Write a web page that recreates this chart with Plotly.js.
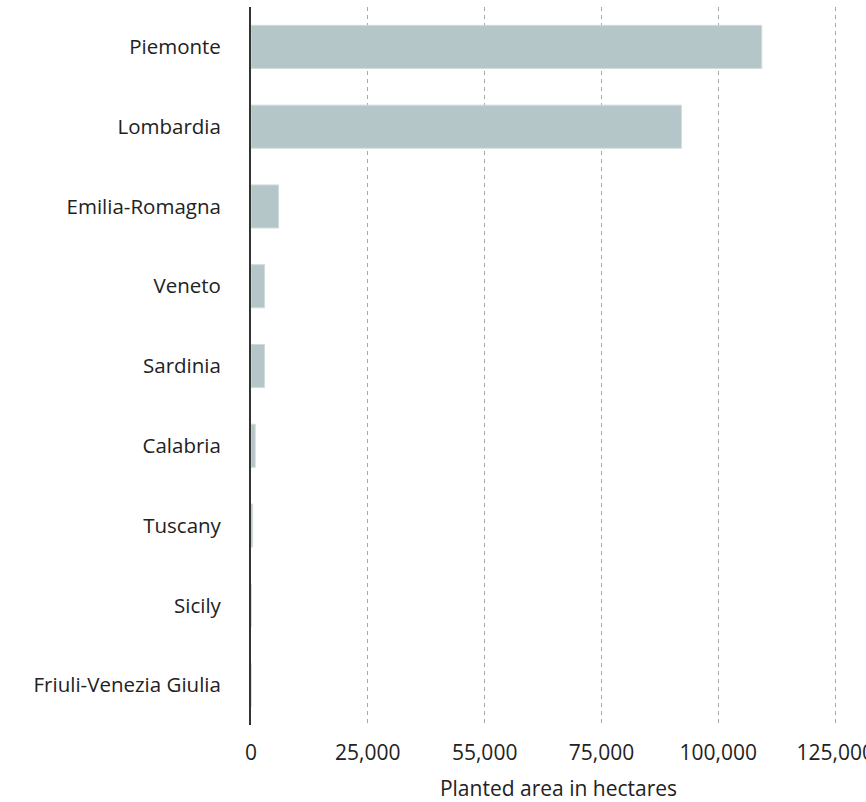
<!DOCTYPE html>
<html>
<head>
<meta charset="utf-8">
<script src="https://cdn.plot.ly/plotly-3.0.1.min.js"></script>
<style>html,body{margin:0;padding:0;background:#fff;}#chart{width:866px;height:802px;}</style>
</head>
<body>
<div id="chart"></div>
<script>
const regions = ["Piemonte","Lombardia","Emilia-Romagna","Veneto","Sardinia","Calabria","Tuscany","Sicily","Friuli-Venezia Giulia"];
const hectares = [109300, 92100, 5900, 2900, 2900, 900, 350, 40, 20];
const tickValues = [0, 25000, 50000, 75000, 100000, 125000];
const tickLabels = ["0", "25,000", "55,000", "75,000", "100,000", "125,000"];

const font = "'Open Sans', sans-serif";
Plotly.newPlot('chart', [{
  type: 'bar',
  orientation: 'h',
  x: hectares,
  y: regions,
  marker: {color: '#b4c6c7', line: {color: '#cfdcdc', width: 1}},
  hoverinfo: 'x+y'
}], {
  width: 866, height: 802,
  margin: {l: 251, r: 0, t: 7, b: 77},
  paper_bgcolor: '#fff', plot_bgcolor: '#fff',
  bargap: 0.46,
  showlegend: false,
  font: {family: font, size: 20, color: '#222'},
  xaxis: {
    range: [0, 131600],
    tickvals: tickValues,
    ticktext: tickLabels,
    showgrid: true, gridcolor: '#a8a8a8', griddash: '4px,4px', gridwidth: 1,
    zeroline: false, showline: false,
    ticks: '', ticklabelstandoff: 13, ticklabeloverflow: 'allow',
    tickfont: {size: 21, color: '#222'},
    title: {text: 'Planted area in hectares', font: {size: 21, color: '#222'}, standoff: 16}
  },
  yaxis: {
    type: 'category',
    autorange: 'reversed',
    showline: true, linecolor: '#333', linewidth: 2,
    showgrid: false, zeroline: false,
    ticks: '', ticklabelstandoff: 24,
    tickfont: {size: 20.5, color: '#222'}
  }
}, {displayModeBar: false, staticPlot: true});
</script>
</body>
</html>
